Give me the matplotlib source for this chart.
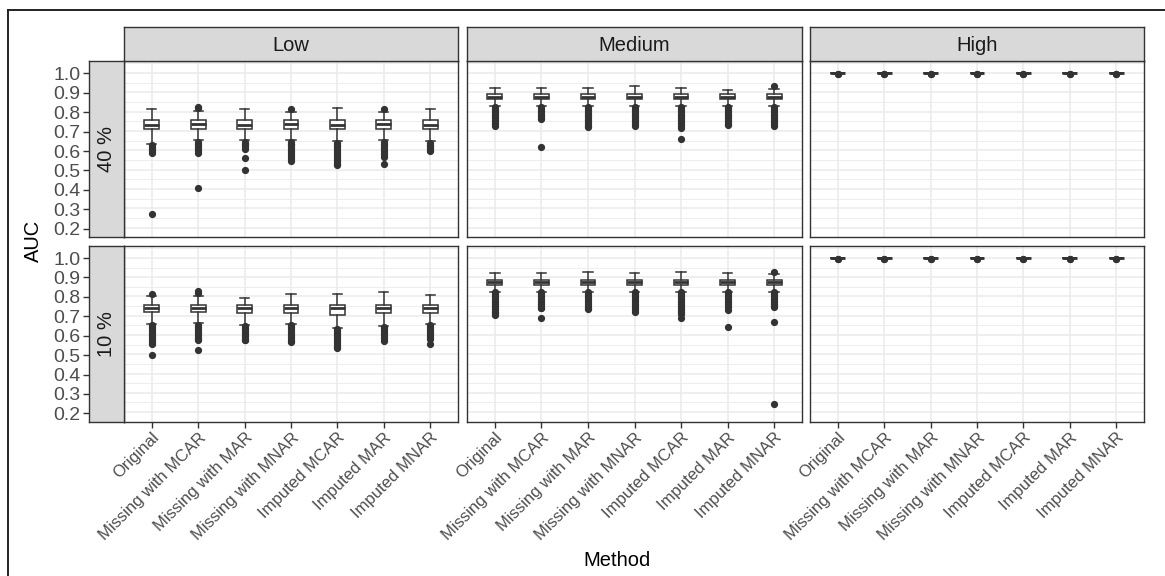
import matplotlib
matplotlib.use("Agg")
import matplotlib.pyplot as plt
from matplotlib.lines import Line2D
import numpy as np

plt.rcParams['font.family'] = ['Liberation Sans', 'DejaVu Sans']

# ---------------- data ----------------
methods = ["Original", "Missing with MCAR", "Missing with MAR", "Missing with MNAR",
           "Imputed MCAR", "Imputed MAR", "Imputed MNAR"]
col_labels = ["Low", "Medium", "High"]
row_labels = ["40 %", "10 %"]
y_ticks = [0.2, 0.3, 0.4, 0.5, 0.6, 0.7, 0.8, 0.9, 1.0]

# Low, 40 %
low40_q1 = [0.709, 0.710, 0.709, 0.709, 0.708, 0.709, 0.709]
low40_med = [0.733, 0.735, 0.733, 0.735, 0.733, 0.735, 0.733]
low40_q3 = [0.755, 0.755, 0.755, 0.755, 0.755, 0.755, 0.755]
low40_wlo = [0.632, 0.655, 0.654, 0.655, 0.646, 0.655, 0.650]
low40_whi = [0.812, 0.805, 0.812, 0.800, 0.818, 0.800, 0.812]
low40_out = [
    [0.625, 0.615, 0.605, 0.595, 0.588, 0.272],
    [0.825, 0.818, 0.645, 0.635, 0.625, 0.615, 0.605, 0.595, 0.585, 0.405],
    [0.645, 0.635, 0.625, 0.615, 0.605, 0.560, 0.500],
    [0.812, 0.645, 0.635, 0.625, 0.615, 0.605, 0.595, 0.585, 0.575, 0.565, 0.555, 0.545],
    [0.640, 0.630, 0.620, 0.610, 0.600, 0.590, 0.580, 0.570, 0.560, 0.550, 0.540, 0.530, 0.522],
    [0.812, 0.645, 0.635, 0.625, 0.615, 0.605, 0.595, 0.585, 0.575, 0.565, 0.528],
    [0.640, 0.630, 0.620, 0.610, 0.600, 0.595],
]

# Low, 10 %
low10_q1 = [0.717, 0.717, 0.712, 0.712, 0.705, 0.712, 0.712]
low10_med = [0.738, 0.740, 0.738, 0.740, 0.738, 0.738, 0.738]
low10_q3 = [0.757, 0.757, 0.757, 0.757, 0.757, 0.757, 0.757]
low10_wlo = [0.657, 0.660, 0.650, 0.655, 0.635, 0.645, 0.655]
low10_whi = [0.805, 0.805, 0.794, 0.815, 0.815, 0.823, 0.808]
low10_out = [
    [0.815, 0.650, 0.640, 0.630, 0.620, 0.610, 0.600, 0.590, 0.580, 0.570, 0.560, 0.555, 0.497],
    [0.830, 0.820, 0.650, 0.640, 0.630, 0.620, 0.610, 0.600, 0.590, 0.580, 0.575, 0.522],
    [0.645, 0.635, 0.625, 0.615, 0.605, 0.595, 0.585, 0.575, 0.572],
    [0.650, 0.640, 0.630, 0.620, 0.610, 0.600, 0.590, 0.580, 0.570, 0.565],
    [0.630, 0.620, 0.610, 0.600, 0.590, 0.580, 0.570, 0.560, 0.550, 0.540, 0.535],
    [0.640, 0.630, 0.620, 0.610, 0.600, 0.590, 0.580, 0.570],
    [0.650, 0.640, 0.630, 0.620, 0.610, 0.600, 0.590, 0.580, 0.555],
]

# Medium, 40 %
med40_q1 = [0.863, 0.863, 0.863, 0.864, 0.863, 0.864, 0.864]
med40_med = [0.877, 0.877, 0.877, 0.878, 0.877, 0.878, 0.878]
med40_q3 = [0.892, 0.892, 0.892, 0.893, 0.892, 0.892, 0.892]
med40_wlo = [0.828, 0.828, 0.828, 0.828, 0.828, 0.828, 0.828]
med40_whi = [0.923, 0.923, 0.923, 0.931, 0.923, 0.914, 0.918]
med40_out = [
    [0.825, 0.815, 0.805, 0.795, 0.785, 0.775, 0.765, 0.755, 0.745, 0.735, 0.726],
    [0.825, 0.815, 0.805, 0.795, 0.785, 0.775, 0.765, 0.760, 0.618],
    [0.825, 0.815, 0.805, 0.795, 0.785, 0.775, 0.765, 0.755, 0.745, 0.735, 0.725, 0.720],
    [0.825, 0.815, 0.805, 0.795, 0.785, 0.775, 0.765, 0.755, 0.745, 0.735, 0.725],
    [0.825, 0.815, 0.805, 0.795, 0.785, 0.775, 0.765, 0.755, 0.745, 0.735, 0.725, 0.716, 0.657],
    [0.825, 0.815, 0.805, 0.795, 0.785, 0.775, 0.765, 0.755, 0.745, 0.735, 0.730],
    [0.935, 0.825, 0.815, 0.805, 0.795, 0.785, 0.775, 0.765, 0.755, 0.745, 0.735, 0.726],
]

# Medium, 10 %
med10_q1 = [0.861, 0.861, 0.861, 0.861, 0.861, 0.861, 0.861]
med10_med = [0.874, 0.874, 0.874, 0.874, 0.874, 0.874, 0.874]
med10_q3 = [0.887, 0.887, 0.887, 0.887, 0.887, 0.887, 0.887]
med10_wlo = [0.825, 0.825, 0.825, 0.825, 0.825, 0.825, 0.825]
med10_whi = [0.921, 0.921, 0.928, 0.921, 0.928, 0.921, 0.915]
med10_out = [
    [0.822, 0.812, 0.802, 0.792, 0.782, 0.772, 0.762, 0.752, 0.742, 0.732, 0.722, 0.712, 0.703],
    [0.822, 0.812, 0.802, 0.792, 0.782, 0.772, 0.762, 0.752, 0.742, 0.738, 0.686],
    [0.822, 0.812, 0.802, 0.792, 0.782, 0.772, 0.762, 0.752, 0.742, 0.735],
    [0.822, 0.812, 0.802, 0.792, 0.782, 0.772, 0.762, 0.752, 0.742, 0.732, 0.722],
    [0.822, 0.812, 0.802, 0.792, 0.782, 0.772, 0.762, 0.752, 0.742, 0.732, 0.722, 0.710, 0.689],
    [0.822, 0.812, 0.802, 0.792, 0.782, 0.772, 0.762, 0.745, 0.729, 0.640],
    [0.928, 0.822, 0.812, 0.802, 0.792, 0.782, 0.772, 0.762, 0.752, 0.743, 0.666, 0.243],
]

# High, 40 % and 10 %
high40_q1 = [0.998, 0.998, 0.998, 0.998, 0.998, 0.998, 0.998]
high40_med = [0.999, 0.999, 0.999, 0.999, 0.999, 0.999, 0.999]
high40_q3 = [1.000, 1.000, 1.000, 1.000, 1.000, 1.000, 1.000]
high40_wlo = [0.996, 0.996, 0.996, 0.996, 0.996, 0.996, 0.996]
high40_whi = [1.000, 1.000, 1.000, 1.000, 1.000, 1.000, 1.000]
high40_out = [[0.994, 0.993]] * 7

high10_q1 = [0.998, 0.998, 0.998, 0.998, 0.998, 0.998, 0.998]
high10_med = [0.999, 0.999, 0.999, 0.999, 0.999, 0.999, 0.999]
high10_q3 = [1.000, 1.000, 1.000, 1.000, 1.000, 1.000, 1.000]
high10_wlo = [0.996, 0.996, 0.996, 0.996, 0.996, 0.996, 0.996]
high10_whi = [1.000, 1.000, 1.000, 1.000, 1.000, 1.000, 1.000]
high10_out = [[0.994, 0.993]] * 7

panels = {
    (0, 0): (low40_q1, low40_med, low40_q3, low40_wlo, low40_whi, low40_out),
    (0, 1): (med40_q1, med40_med, med40_q3, med40_wlo, med40_whi, med40_out),
    (0, 2): (high40_q1, high40_med, high40_q3, high40_wlo, high40_whi, high40_out),
    (1, 0): (low10_q1, low10_med, low10_q3, low10_wlo, low10_whi, low10_out),
    (1, 1): (med10_q1, med10_med, med10_q3, med10_wlo, med10_whi, med10_out),
    (1, 2): (high10_q1, high10_med, high10_q3, high10_wlo, high10_whi, high10_out),
}

# ---------------- layout ----------------
W, H = 1165, 576
fig = plt.figure(figsize=(W / 100, H / 100), dpi=100)
fig.patch.set_facecolor('white')


def rect(x0, y0, x1, y1):
    return [x0 / W, 1 - y1 / H, (x1 - x0) / W, (y1 - y0) / H]


col_x = [(124, 458), (467, 802), (810, 1144)]
row_y = [(61, 237.3), (246, 421.7)]
strip_top = 27
strip_left = 89

DARK = '#333333'
GRID = '#EBEBEB'
STRIP = '#D9D9D9'
TXT = '#4D4D4D'
ylim = (0.157, 1.062)
xlim = (0.4, 7.6)
pos = np.arange(1, len(methods) + 1)
minor_ticks = [0.15, 0.25, 0.35, 0.45, 0.55, 0.65, 0.75, 0.85, 0.95, 1.05]

for (r, c), (q1, med, q3, wlo, whi, outl) in panels.items():
    x0, x1 = col_x[c]
    y0, y1 = row_y[r]
    ax = fig.add_axes(rect(x0, y0, x1, y1))
    ax.set_xlim(*xlim)
    ax.set_ylim(*ylim)
    ax.set_facecolor('white')
    ax.set_axisbelow(True)
    ax.set_yticks(y_ticks)
    ax.set_yticks(minor_ticks, minor=True)
    ax.set_xticks(pos)
    ax.grid(True, which='major', color=GRID, lw=1.1)
    ax.grid(True, which='minor', axis='y', color=GRID, lw=0.6)
    ax.tick_params(axis='y', which='both', left=False, labelleft=False)
    for sp in ax.spines.values():
        sp.set_color(DARK)
        sp.set_linewidth(1.0)
        sp.set_zorder(5)

    stats = []
    for i in range(len(methods)):
        stats.append(dict(q1=q1[i], med=med[i], q3=q3[i], whislo=wlo[i],
                          whishi=whi[i], fliers=outl[i]))
    ax.bxp(stats, positions=pos, widths=0.32, capwidths=0.2, showfliers=True,
           patch_artist=True, manage_ticks=False,
           boxprops=dict(facecolor='white', edgecolor=DARK, linewidth=1.1),
           medianprops=dict(color=DARK, linewidth=2.0),
           whiskerprops=dict(color=DARK, linewidth=1.1),
           capprops=dict(color=DARK, linewidth=1.1),
           flierprops=dict(marker='o', markerfacecolor=DARK, markeredgecolor=DARK,
                           markersize=4.2, linestyle='none'))

    if r == 1:
        ax.tick_params(axis='x', bottom=True, length=4, width=1.0, color=DARK,
                       labelbottom=True, labelsize=12, labelcolor=TXT, pad=2)
        ax.set_xticklabels(methods, rotation=45, ha='right', va='top',
                           rotation_mode='anchor')
    else:
        ax.tick_params(axis='x', bottom=False, labelbottom=False)

    # top strips
    if r == 0:
        st = fig.add_axes(rect(x0, strip_top, x1, row_y[0][0]))
        st.set_facecolor(STRIP)
        st.set_xticks([])
        st.set_yticks([])
        for sp in st.spines.values():
            sp.set_color(DARK)
            sp.set_linewidth(1.0)
        st.text(0.5, 0.46, col_labels[c], ha='center', va='center',
                fontsize=14.5, color='#1A1A1A', transform=st.transAxes)

# row strips carrying the y axis
for r in range(2):
    y0, y1 = row_y[r]
    rs = fig.add_axes(rect(strip_left, y0, col_x[0][0], y1))
    rs.set_facecolor(STRIP)
    rs.set_ylim(*ylim)
    rs.set_xticks([])
    rs.set_yticks(y_ticks)
    rs.set_yticklabels([f"{v:.1f}" for v in y_ticks])
    rs.tick_params(axis='y', length=4, width=1.0, color=DARK, labelsize=14,
                   labelcolor=TXT, pad=2)
    for sp in rs.spines.values():
        sp.set_color(DARK)
        sp.set_linewidth(1.0)
    rs.text(0.5, 0.5, row_labels[r], rotation=90, ha='center', va='center',
            fontsize=14.5, color='#1A1A1A', transform=rs.transAxes)

# axis titles
fig.text(617 / W, 1 - 561 / H, "Method", ha='center', va='center', fontsize=14.5)
fig.text(33 / W, 1 - 241 / H, "AUC", ha='center', va='center', rotation=90,
         fontsize=14.5)

# outer frame of the screenshot
fig.add_artist(Line2D([8 / W, 8 / W], [0, 1 - 10 / H], color='#222222', lw=1.4,
                      transform=fig.transFigure))
fig.add_artist(Line2D([8 / W, 1], [1 - 10 / H, 1 - 10 / H], color='#222222', lw=1.4,
                      transform=fig.transFigure))

fig.savefig("out.png", dpi=100)
